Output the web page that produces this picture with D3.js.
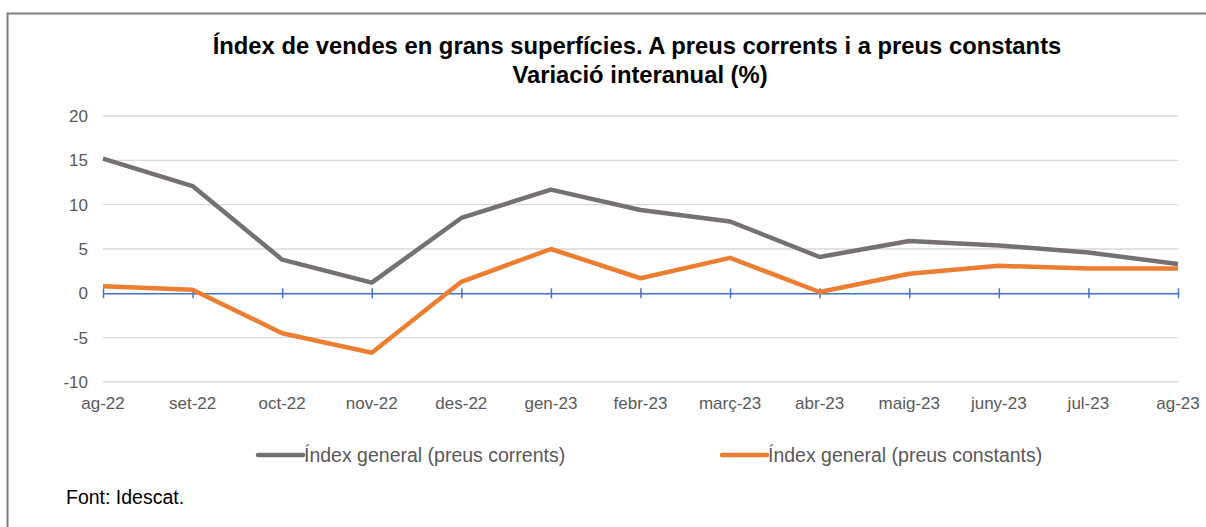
<!DOCTYPE html>
<html>
<head>
<meta charset="utf-8">
<script src="https://cdn.jsdelivr.net/npm/d3@7"></script>
<style>
  body { margin: 0; background: #fff; }
  svg text { font-family: "Liberation Sans", Arial, sans-serif; }
</style>
</head>
<body>
<div id="chart"></div>
<script>
// data
var months = ["ag-22", "set-22", "oct-22", "nov-22", "des-22", "gen-23", "febr-23",
  "març-23", "abr-23", "maig-23", "juny-23", "jul-23", "ag-23"];
var corrents = [15.2, 12.1, 3.8, 1.2, 8.5, 11.7, 9.4, 8.1, 4.1, 5.9, 5.4, 4.6, 3.3];
var constants = [0.8, 0.4, -4.5, -6.7, 1.3, 5.0, 1.7, 4.0, 0.15, 2.2, 3.1, 2.8, 2.8];
var yTicks = [-10, -5, 0, 5, 10, 15, 20];
var seriesNames = ["Índex general (preus corrents)", "Índex general (preus constants)"];

var svgWidth = 1206;
var svgHeight = 527;

var margin = { top: 116, right: 28, bottom: 145, left: 103 };
var chartWidth = 1178 - margin.left;
var chartHeight = 382 - margin.top;

var svg = d3.select("#chart").append("svg")
  .attr("width", svgWidth)
  .attr("height", svgHeight);

// frame (top + left edges visible)
svg.append("rect")
  .attr("x", 7.5).attr("y", 13.5)
  .attr("width", svgWidth + 20).attr("height", svgHeight + 20)
  .attr("fill", "none")
  .attr("stroke", "#7f7f7f")
  .attr("stroke-width", 2);

// title
svg.append("text")
  .attr("x", 637).attr("y", 54)
  .attr("text-anchor", "middle")
  .attr("font-size", "23.8px").attr("font-weight", "bold")
  .text("Índex de vendes en grans superfícies. A preus corrents i a preus constants");
svg.append("text")
  .attr("x", 640).attr("y", 83)
  .attr("text-anchor", "middle")
  .attr("font-size", "23.8px").attr("font-weight", "bold")
  .text("Variació interanual (%)");

var chartGroup = svg.append("g")
  .attr("transform", `translate(${margin.left}, ${margin.top})`);

var x = d3.scalePoint()
  .domain(months)
  .range([0, chartWidth]);

var y = d3.scaleLinear()
  .domain([-10, 20])
  .range([chartHeight, 0]);

// gridlines
chartGroup.append("g")
  .selectAll("line")
  .data(yTicks)
  .enter()
  .append("line")
  .attr("x1", 0).attr("x2", chartWidth)
  .attr("y1", d => y(d)).attr("y2", d => y(d))
  .attr("stroke", "#d9d9d9")
  .attr("stroke-width", 1.3);

// y labels
chartGroup.append("g")
  .selectAll("text")
  .data(yTicks)
  .enter()
  .append("text")
  .attr("x", -15)
  .attr("y", d => y(d) + 6)
  .attr("text-anchor", "end")
  .attr("font-size", "17px")
  .attr("fill", "#595959")
  .text(d => d);

// x labels
chartGroup.append("g")
  .selectAll("text")
  .data(months)
  .enter()
  .append("text")
  .attr("x", d => x(d))
  .attr("y", chartHeight + 27)
  .attr("text-anchor", "middle")
  .attr("font-size", "17px")
  .attr("fill", "#595959")
  .text(d => d);

// zero axis with ticks
var zeroAxis = d3.axisBottom(x).tickSize(0).tickFormat("");
var axisG = chartGroup.append("g")
  .attr("transform", `translate(0, ${y(0)})`)
  .call(zeroAxis);
axisG.select(".domain").attr("stroke", "#4472c4").attr("stroke-width", 1.5);
axisG.selectAll(".tick line")
  .attr("y1", -5).attr("y2", 5)
  .attr("stroke", "#4472c4").attr("stroke-width", 1.5);

// lines
var line = d3.line()
  .x((d, i) => x(months[i]))
  .y(d => y(d));

chartGroup.append("path")
  .datum(corrents)
  .attr("d", line)
  .attr("fill", "none")
  .attr("stroke", "#767171")
  .attr("stroke-width", 4.5)
  .attr("stroke-linejoin", "round");

chartGroup.append("path")
  .datum(constants)
  .attr("d", line)
  .attr("fill", "none")
  .attr("stroke", "#ed7d31")
  .attr("stroke-width", 4.5)
  .attr("stroke-linejoin", "round");

// legend
var legendX = [258, 722];
var legendColors = ["#767171", "#ed7d31"];
seriesNames.forEach(function(name, i) {
  svg.append("line")
    .attr("x1", legendX[i]).attr("x2", legendX[i] + 45)
    .attr("y1", 455).attr("y2", 455)
    .attr("stroke", legendColors[i])
    .attr("stroke-width", 4.5)
    .attr("stroke-linecap", "round");
  svg.append("text")
    .attr("x", legendX[i] + 46)
    .attr("y", 462)
    .attr("font-size", "19.5px")
    .attr("fill", "#595959")
    .text(name);
});

// source
svg.append("text")
  .attr("x", 66).attr("y", 504)
  .attr("font-size", "19.5px")
  .attr("fill", "#000")
  .text("Font: Idescat.");
</script>
</body>
</html>
